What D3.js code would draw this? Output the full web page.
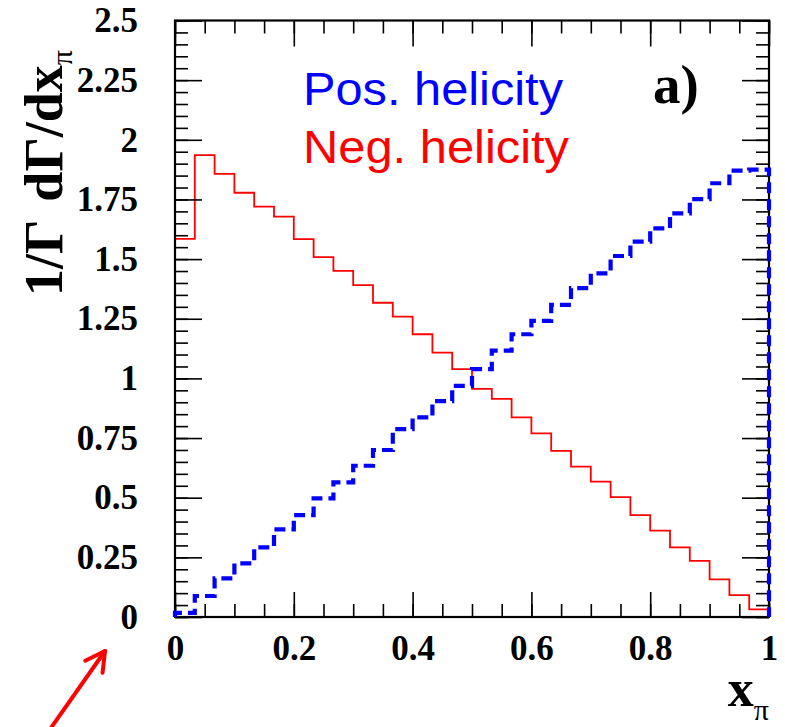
<!DOCTYPE html>
<html>
<head>
<meta charset="utf-8">
<script src="https://cdn.jsdelivr.net/npm/d3@7"></script>
<style>
  html, body { margin: 0; padding: 0; background: #fff; }
  svg { display: block; }
</style>
</head>
<body>
<svg id="chart" width="785" height="727"></svg>
<script>
// ---- data ----
const nBins = 30;
const xDomain = [0, 1];
const yDomain = [0, 2.5];
const negHelicity = [1.585, 1.936, 1.857, 1.778, 1.720, 1.678, 1.584, 1.508, 1.451, 1.391,
                     1.317, 1.259, 1.185, 1.108, 1.039, 0.956, 0.914, 0.837, 0.770, 0.696,
                     0.630, 0.567, 0.502, 0.427, 0.362, 0.292, 0.235, 0.158, 0.092, 0.032];
const posHelicity = [0.017, 0.088, 0.162, 0.225, 0.292, 0.367, 0.427, 0.497, 0.564, 0.634,
                     0.700, 0.787, 0.837, 0.905, 0.969, 1.039, 1.116, 1.185, 1.241, 1.308,
                     1.378, 1.440, 1.513, 1.573, 1.629, 1.692, 1.751, 1.818, 1.871, 1.875];
const xTickValues = [0, 0.2, 0.4, 0.6, 0.8, 1];
const xTickLabels = ["0", "0.2", "0.4", "0.6", "0.8", "1"];
const yTickValues = [0, 0.25, 0.5, 0.75, 1, 1.25, 1.5, 1.75, 2, 2.25, 2.5];
const yTickLabels = ["0", "0.25", "0.5", "0.75", "1", "1.25", "1.5", "1.75", "2", "2.25", "2.5"];
const legendLabels = ["Pos. helicity", "Neg. helicity"];
const legendColors = ["#0000ff", "#ff0000"];

// ---- layout ----
const L = 175, R = 769, T = 20.5, B = 617;
const svg = d3.select("#chart");
const x = d3.scaleLinear().domain(xDomain).range([L, R]);
const y = d3.scaleLinear().domain(yDomain).range([B, T]);
const edges = d3.range(nBins + 1).map(i => xDomain[0] + (xDomain[1] - xDomain[0]) * i / nBins);

function stepPoints(vals) {
  const pts = [[edges[0], 0]];
  vals.forEach((v, i) => { pts.push([edges[i], v]); pts.push([edges[i + 1], v]); });
  pts.push([edges[nBins], 0]);
  return pts;
}
const line = d3.line().x(d => x(d[0])).y(d => y(d[1]));

// red histogram (under axes)
svg.append("path").attr("d", line(stepPoints(negHelicity)))
  .attr("fill", "none").attr("stroke", "#ff0000").attr("stroke-width", 1.8);

// ---- axes ----
const minorVals = d3.range(0, 51).map(i => i * 0.05);
const minorX = d3.range(0, 21).map(i => i * 0.05);
const tickStyle = g => {
  g.select(".domain").remove();
  g.selectAll(".tick line").attr("stroke", "#000").attr("stroke-width", 1.6);
};
const labelStyle = g => g.selectAll("text")
  .attr("font-family", "'Liberation Serif', 'Times New Roman', serif")
  .attr("font-weight", "bold").attr("font-size", 35).attr("fill", "#000");

// left
svg.append("g").attr("transform", `translate(${L},0)`)
  .call(d3.axisLeft(y).tickValues(minorVals).tickFormat("").tickSize(-13)).call(tickStyle);
svg.append("g").attr("transform", `translate(${L},0)`)
  .call(d3.axisLeft(y).tickValues(yTickValues).tickFormat((d, i) => yTickLabels[i]).tickSize(-27).tickPadding(37))
  .call(tickStyle).call(labelStyle);
// right
svg.append("g").attr("transform", `translate(${R},0)`)
  .call(d3.axisRight(y).tickValues(minorVals).tickFormat("").tickSize(-13)).call(tickStyle);
svg.append("g").attr("transform", `translate(${R},0)`)
  .call(d3.axisRight(y).tickValues(yTickValues).tickFormat("").tickSize(-27)).call(tickStyle);
// bottom
svg.append("g").attr("transform", `translate(0,${B})`)
  .call(d3.axisBottom(x).tickValues(minorX).tickFormat("").tickSize(-13)).call(tickStyle);
svg.append("g").attr("transform", `translate(0,${B})`)
  .call(d3.axisBottom(x).tickValues(xTickValues).tickFormat((d, i) => xTickLabels[i]).tickSize(-25).tickPadding(18))
  .call(tickStyle).call(labelStyle);
// top
svg.append("g").attr("transform", `translate(0,${T})`)
  .call(d3.axisTop(x).tickValues(minorX).tickFormat("").tickSize(-13)).call(tickStyle);
svg.append("g").attr("transform", `translate(0,${T})`)
  .call(d3.axisTop(x).tickValues(xTickValues).tickFormat("").tickSize(-26)).call(tickStyle);

// frame
svg.append("rect").attr("x", L).attr("y", T).attr("width", R - L).attr("height", B - T)
  .attr("fill", "none").attr("stroke", "#000").attr("stroke-width", 2.2);

// blue histogram (over axes)
svg.append("path").attr("d", line(stepPoints(posHelicity)))
  .attr("fill", "none").attr("stroke", "#0000ff").attr("stroke-width", 4.2)
  .attr("stroke-dasharray", "11,6");

// ---- legend texts ----
const legendWidths = [260, 266];
legendLabels.forEach((t, i) => {
  svg.append("text").attr("x", 303).attr("y", 105 + i * 58)
    .attr("font-family", "'Liberation Sans', Arial, sans-serif")
    .attr("font-size", 46).attr("fill", legendColors[i])
    .attr("textLength", legendWidths[i]).attr("lengthAdjust", "spacingAndGlyphs").text(t);
});

// panel label
svg.append("text").attr("x", 653).attr("y", 103)
  .attr("font-family", "'Liberation Serif', 'Times New Roman', serif")
  .attr("font-weight", "bold").attr("font-size", 55).attr("fill", "#000").text("a)");

// y title
const yt = svg.append("text").attr("transform", "translate(62,296) rotate(-90)")
  .attr("font-family", "'Liberation Serif', 'Times New Roman', serif")
  .attr("font-weight", "bold").attr("font-size", 54).attr("fill", "#000")
  .attr("text-anchor", "start");
yt.append("tspan").text("1/Γ");
yt.append("tspan").attr("dx", 18).text("dΓ/dx");
yt.append("tspan").attr("font-size", 30).attr("font-weight", "normal").attr("dy", 10).text("π");

// x title
const xt = svg.append("text").attr("x", 769).attr("y", 706)
  .attr("font-family", "'Liberation Serif', 'Times New Roman', serif")
  .attr("font-weight", "bold").attr("font-size", 52).attr("fill", "#000")
  .attr("text-anchor", "end");
xt.append("tspan").text("x");
xt.append("tspan").attr("font-size", 30).attr("font-weight", "normal").attr("dy", 14).text("π");

// red annotation arrow
const tip = [105, 651], tail = [46, 735];
const arrow = svg.append("g").attr("stroke", "#ff0000").attr("stroke-width", 4).attr("stroke-linecap", "round").attr("fill", "none");
arrow.append("line").attr("x1", tail[0]).attr("y1", tail[1]).attr("x2", tip[0]).attr("y2", tip[1]);
const ang = Math.atan2(tip[1] - tail[1], tip[0] - tail[0]);
[-0.5, 0.5].forEach(da => {
  const a = ang + Math.PI + da;
  arrow.append("line").attr("x1", tip[0]).attr("y1", tip[1])
    .attr("x2", tip[0] + 22 * Math.cos(a)).attr("y2", tip[1] + 22 * Math.sin(a));
});
</script>
</body>
</html>
